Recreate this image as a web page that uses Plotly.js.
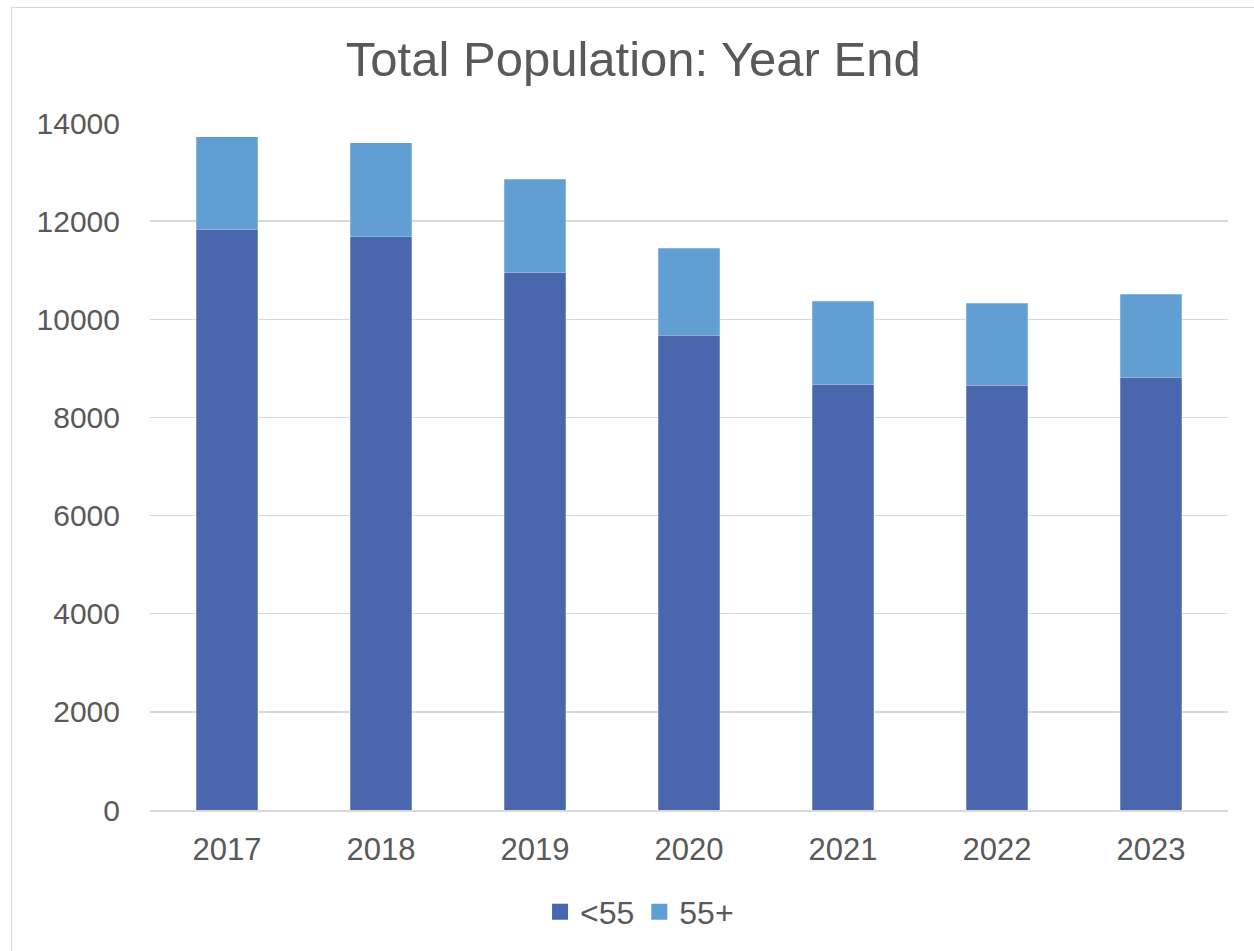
<!DOCTYPE html>
<html>
<head>
<meta charset="utf-8">
<script src="https://cdn.plot.ly/plotly-3.0.1.min.js"></script>
<style>
  html, body { margin: 0; padding: 0; background: #fff; }
  #chart { position: absolute; left: 0; top: 0; width: 1254px; height: 951px; }
  #frame { position: absolute; left: 11px; top: 7px; width: 1260px; height: 960px;
           border: 1px solid #d9d9d9; pointer-events: none; }
</style>
</head>
<body>
<div id="chart"></div>
<div id="frame"></div>
<script>
const years = ['2017', '2018', '2019', '2020', '2021', '2022', '2023'];
const under55 = [11836, 11679, 10951, 9675, 8668, 8656, 8819];
const over55 = [1882, 1917, 1905, 1774, 1700, 1671, 1692];
const seriesNames = ['<55', '55+'];
const seriesColors = ['#4A66AD', '#619ED2'];
const yTicks = [0, 2000, 4000, 6000, 8000, 10000, 12000, 14000];

const fontFam = 'Liberation Sans, Arial, sans-serif';
const txt = '#595959';

const seriesValues = [under55, over55];
const traces = seriesValues.map((vals, i) => ({
  type: 'bar', name: seriesNames[i], x: years, y: vals,
  marker: { color: seriesColors[i], line: { color: 'rgba(255,255,255,0.5)', width: 0.5 } },
  showlegend: false, legendgroup: seriesNames[i]
}));
// legend swatches (larger square keys, as in the reference)
seriesNames.forEach((n, i) => traces.push({
  type: 'scatter', mode: 'markers', name: n, x: [null], y: [null],
  marker: { symbol: 'square', size: 20, color: seriesColors[i] },
  showlegend: true, legendgroup: n
}));

const layout = {
  width: 1254, height: 951,
  paper_bgcolor: '#ffffff', plot_bgcolor: '#ffffff',
  barmode: 'stack', bargap: 0.6,
  margin: { l: 150, r: 26, t: 123, b: 141 },
  font: { family: fontFam, color: txt },
  title: {
    text: 'Total Population: Year End',
    font: { family: fontFam, size: 49, color: txt },
    xref: 'container', x: 0.505, xanchor: 'center',
    yref: 'container', y: 1 - 59 / 951, yanchor: 'middle'
  },
  xaxis: {
    type: 'category',
    tickfont: { size: 31, color: txt, family: fontFam },
    ticks: 'outside', ticklen: 11, tickcolor: 'rgba(0,0,0,0)',
    showline: true, linecolor: '#d9d9d9', linewidth: 2,
    showgrid: false, zeroline: false
  },
  yaxis: {
    range: [0, 14000], tickvals: yTicks, ticktext: yTicks.map(String),
    tickfont: { size: 30, color: txt, family: fontFam },
    ticks: 'outside', ticklen: 23, tickcolor: 'rgba(0,0,0,0)',
    showgrid: true, gridcolor: '#d9d9d9', gridwidth: 1.5,
    zeroline: false, showline: false
  },
  showlegend: true,
  legend: {
    orientation: 'h',
    xref: 'container', x: 0.51, xanchor: 'center',
    yref: 'container', y: 1 - 912 / 951, yanchor: 'middle',
    font: { size: 32, color: txt, family: fontFam },
    traceorder: 'normal',
    itemwidth: 30, itemsizing: 'trace'
  }
};

Plotly.newPlot('chart', traces, layout, { displayModeBar: false, staticPlot: true });
</script>
</body>
</html>
